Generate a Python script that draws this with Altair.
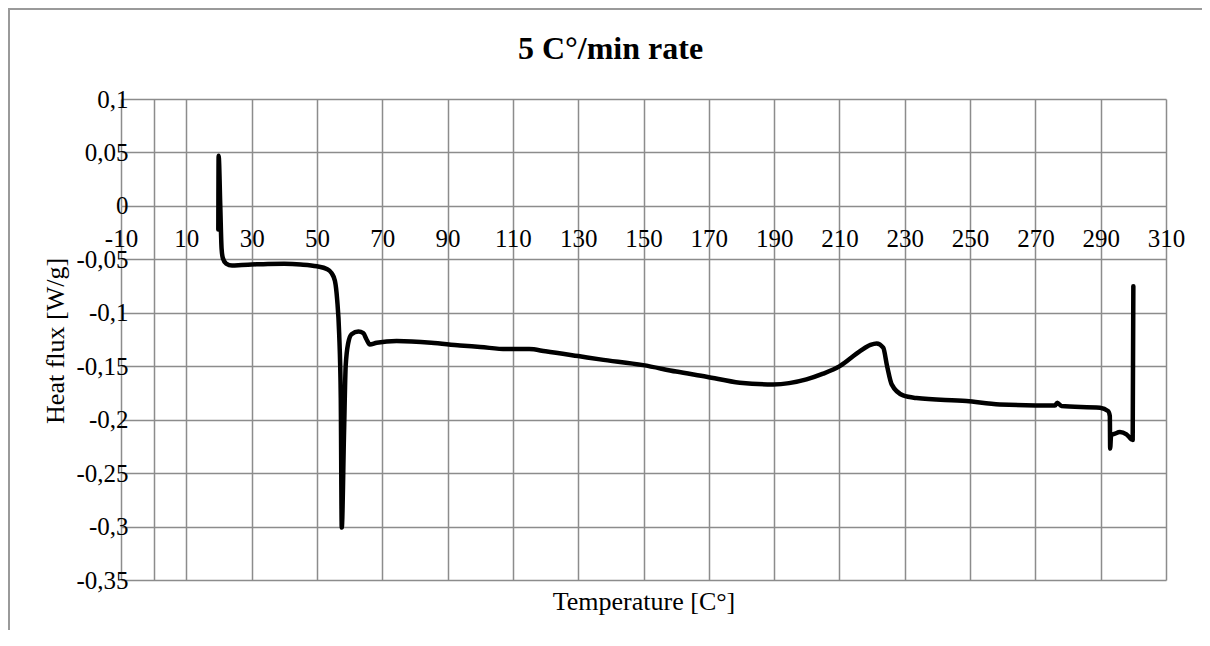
import altair as alt
import pandas as pd

# Data (Temperature [C°], Heat flux [W/g])
temperature = [19.8, 19.9, 20.4, 20.8, 21.2, 22.2, 24.0, 27.0, 30.0, 35.0, 40.0, 45.0, 50.0,
               53.0, 54.5, 55.5, 56.2, 56.8, 57.3, 57.6, 58.3, 58.8, 59.6, 60.6, 62.7, 64.2,
               65.2, 66.2, 68.3, 74.4, 85.0, 93.8, 100.0, 108.0, 115.0, 120.0, 130.0, 136.7,
               149.9, 160.0, 169.3, 179.5, 189.7, 199.9, 205.0, 210.1, 216.3, 219.5, 221.4,
               223.4, 224.6, 226.0, 229.5, 233.6, 248.9, 259.1, 276.0, 276.7, 278.0, 289.8,
               292.3, 292.8, 292.9, 293.2, 293.8, 295.9, 297.9, 299.8, 300.0]
heat_flux = [-0.022, 0.047, 0.0, -0.040, -0.049, -0.054, -0.0558, -0.0553, -0.0549, -0.0543,
             -0.0542, -0.0548, -0.0565, -0.059, -0.063, -0.070, -0.088, -0.119, -0.180, -0.301,
             -0.212, -0.150, -0.128, -0.120, -0.1175, -0.119, -0.125, -0.1297, -0.128, -0.1265,
             -0.128, -0.1306, -0.132, -0.134, -0.134, -0.136, -0.1405, -0.1436, -0.149, -0.155,
             -0.1598, -0.1654, -0.167, -0.1623, -0.157, -0.1499, -0.1359, -0.130, -0.1287,
             -0.1327, -0.150, -0.167, -0.1773, -0.1798, -0.1826, -0.1857, -0.1867, -0.1841,
             -0.1873, -0.1888, -0.192, -0.1966, -0.227, -0.214, -0.2137, -0.2116, -0.2137,
             -0.219, -0.0751]

x_grid_values = [-10, 0, 10, 30, 50, 70, 90, 110, 130, 150, 170, 190, 210, 230, 250, 270, 290, 310]
y_tick_values = [0.1, 0.05, 0, -0.05, -0.1, -0.15, -0.2, -0.25, -0.3, -0.35]

title_text = "5 C°/min rate"
x_title = "Temperature [C°]"
y_title = "Heat flux [W/g]"

df = pd.DataFrame({"T": temperature, "H": heat_flux, "i": list(range(len(temperature)))})

W, H = 1045, 481
FONT = "Liberation Serif"
GRID = "#8c8c8c"

line = alt.Chart(df).mark_line(
    color="black", strokeWidth=4.5, strokeJoin="round", strokeCap="round",
    interpolate="monotone"
).encode(
    x=alt.X("T:Q",
            scale=alt.Scale(domain=[-10, 310], nice=False, zero=False),
            axis=alt.Axis(values=x_grid_values,
                          labelExpr="datum.value == 0 ? '' : toString(datum.value)",
                          grid=True, gridColor=GRID, gridWidth=1.5,
                          domain=False, ticks=False, orient="bottom", offset=-342,
                          labelPadding=0, labelBaseline="middle", labelAlign="center",
                          labelFont=FONT, labelFontSize=25, labelColor="black",
                          labelFlush=False, labelOverlap=False, labelBound=False,
                          title=x_title, titleFont=FONT, titleFontSize=26,
                          titleFontWeight="normal", titleColor="black",
                          titleX=W / 2, titleY=371, titleBaseline="alphabetic",
                          titleAlign="center")),
    y=alt.Y("H:Q",
            scale=alt.Scale(domain=[-0.35, 0.1], nice=False, zero=False),
            axis=alt.Axis(values=y_tick_values,
                          labelExpr="replace(toString(datum.value), '.', ',')",
                          grid=True, gridColor=GRID, gridWidth=1.5,
                          domain=False, ticks=False, offset=-7,
                          labelPadding=0, labelAlign="right", labelBaseline="middle",
                          labelFont=FONT, labelFontSize=25, labelColor="black",
                          labelFlush=False, labelOverlap=False, labelBound=False,
                          title=y_title, titleFont=FONT, titleFontSize=26,
                          titleFontWeight="normal", titleColor="black",
                          titleX=-65, titleY=241.4, titleAngle=270,
                          titleBaseline="alphabetic", titleAlign="center")),
    order="i:Q",
)

frame_df = pd.DataFrame({"a": [0]})
frame_top = alt.Chart(frame_df).mark_rule(color="#9a9a9a", strokeWidth=2).encode(
    x=alt.value(-113), x2=alt.value(W + 36), y=alt.value(-90)
)
frame_left = alt.Chart(frame_df).mark_rule(color="#9a9a9a", strokeWidth=2).encode(
    x=alt.value(-112), y=alt.value(-91), y2=alt.value(H + 50)
)
title_mark = alt.Chart(pd.DataFrame({"t": [title_text]})).mark_text(
    font=FONT, fontSize=32, fontWeight="bold", color="black",
    align="center", baseline="alphabetic"
).encode(
    text="t:N", x=alt.value(489.5), y=alt.value(-40)
)

chart = alt.layer(frame_top, frame_left, title_mark, line).properties(
    width=W, height=H,
    autosize=alt.AutoSizeParams(type="none"),
    padding={"left": 113, "top": 91, "right": 36, "bottom": 50},
).configure_view(strokeOpacity=0)

chart.save("out.html", embed_options={"renderer": "svg", "actions": False})
